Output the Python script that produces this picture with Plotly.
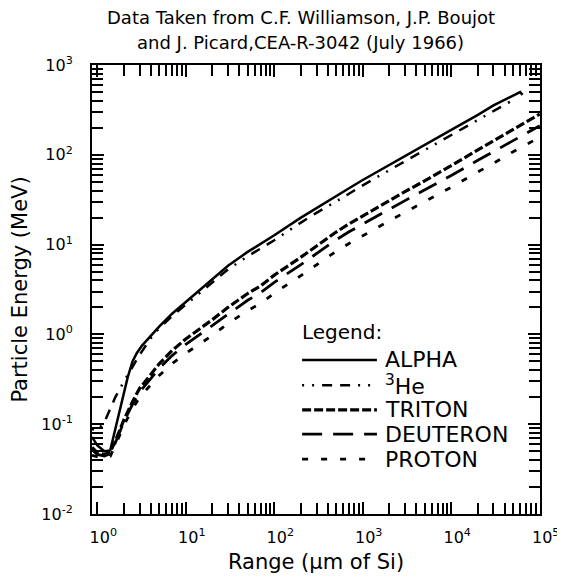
import plotly.graph_objects as go

# ---- data ----
alpha_range = [0.87, 1.0, 1.2, 1.4, 1.6, 2.0, 2.2, 2.5, 2.8, 3.2, 4.0, 5.0, 7.0, 10, 15, 20, 30, 50, 70, 100,
               200, 300, 500, 700, 1000, 2000, 3000, 5000, 7000, 10000, 20000, 30000, 50000, 60000, 64000]
alpha_energy = [0.072, 0.058, 0.05, 0.051, 0.089, 0.22, 0.33, 0.5, 0.62, 0.75, 0.96, 1.22, 1.7, 2.3, 3.2,
                4.1, 5.8, 8.3, 10.2, 12.7, 20, 25.7, 34.7, 42.5, 52.5, 77.6, 98, 130, 157, 190, 279, 355,
                457, 500, 465]

he3_range = [0.87, 1.0, 1.2, 1.4, 1.6, 2.0, 2.5, 3.0, 4.0, 5.0, 7.0, 10, 15, 20, 30, 50, 70, 100,
             200, 300, 500, 700, 1000, 2000, 3000, 5000, 7000, 10000, 20000, 30000, 46000]
he3_energy = [0.088, 0.085, 0.105, 0.15, 0.2, 0.3, 0.44, 0.59, 0.9, 1.17, 1.6, 2.15, 3.0, 3.8, 5.3,
              7.4, 9.1, 11.2, 17.6, 22.6, 30.2, 37.2, 45.7, 67.6, 85, 113, 136, 166, 243, 309, 390]

hyd_range = [0.87, 1.0, 1.2, 1.4, 1.6, 2.0, 2.5, 3.0, 4.0, 5.0, 7.0, 10, 15, 20, 30, 50, 70, 100,
             200, 300, 500, 700, 1000, 2000, 3000, 5000, 7000, 10000, 20000, 30000, 50000, 100000]
triton_energy = [0.055, 0.048, 0.046, 0.049, 0.065, 0.112, 0.178, 0.25, 0.355, 0.47, 0.66, 0.89, 1.19,
                 1.46, 2.0, 2.85, 3.47, 4.57, 7.25, 9.7, 13.8, 17.0, 20.9, 30.9, 38.9, 51.3, 61.7,
                 75.9, 113.5, 143, 195, 285]
deuteron_energy = [0.052, 0.046, 0.044, 0.047, 0.062, 0.107, 0.166, 0.228, 0.32, 0.419, 0.581, 0.775,
                   1.027, 1.254, 1.70, 2.40, 2.91, 3.80, 5.99, 7.97, 11.3, 13.9, 17.0, 24.8, 30.9,
                   40.4, 48.2, 58.9, 86.9, 108.5, 146.6, 211]
proton_energy = [0.045, 0.043, 0.041, 0.0437, 0.058, 0.0976, 0.148, 0.199, 0.269, 0.348, 0.472, 0.616,
                 0.805, 0.976, 1.32, 1.84, 2.21, 2.88, 4.52, 5.98, 8.42, 10.3, 12.6, 18.4, 22.9, 29.9,
                 35.7, 43.6, 64.6, 80.4, 108.4, 157]

series_names = ["ALPHA", "<sup>3</sup>He", "TRITON", "DEUTERON", "PROTON"]

x_tick_vals = [1, 10, 100, 1000, 10000, 100000]
x_tick_text = ["10<sup>0</sup>", "10<sup>1</sup>", "10<sup>2</sup>", "10<sup>3</sup>", "10<sup>4</sup>", "10<sup>5</sup>"]
y_tick_vals = [0.01, 0.1, 1, 10, 100, 1000]
y_tick_text = ["10<sup>-2</sup>", "10<sup>-1</sup>", "10<sup>0</sup>", "10<sup>1</sup>", "10<sup>2</sup>", "10<sup>3</sup>"]

title_lines = ["Data Taken from C.F. Williamson, J.P. Boujot",
               "and J. Picard,CEA-R-3042 (July 1966)"]

# ---- styles ----
styles = [
    dict(dash="solid", width=2.5),
    dict(dash="2px,8px,2px,8px,10px,8px,10px,8px", width=2.5),
    dict(dash="9px,3px", width=3.2),
    dict(dash="20px,11px", width=2.8),
    dict(dash="6px,13px", width=2.8),
]
xs = [alpha_range, he3_range, hyd_range, hyd_range, hyd_range]
ys = [alpha_energy, he3_energy, triton_energy, deuteron_energy, proton_energy]

FONT = "DejaVu Sans"
fig = go.Figure()
for name, x, y, st in zip(series_names, xs, ys, styles):
    fig.add_trace(go.Scatter(x=x, y=y, mode="lines", name=name, showlegend=False, hoverinfo="skip",
                             line=dict(color="black", width=st["width"], dash=st["dash"])))
# invisible copy on the mirrored axes so the top/right tick marks are drawn
fig.add_trace(go.Scatter(x=alpha_range, y=alpha_energy, mode="lines", xaxis="x2", yaxis="y2",
                         showlegend=False, hoverinfo="skip", line=dict(color="rgba(0,0,0,0)", width=0)))


def minor_vals(lo, hi):
    vals = []
    for d in range(lo, hi):
        for m in range(2, 10):
            vals.append(m * 10 ** d)
    return vals


def axis_style(**kw):
    d = dict(type="log", showgrid=False, zeroline=False, showline=True, linecolor="black",
             linewidth=2, ticks="inside", ticklen=12, tickwidth=1.5, automargin=False,
             tickcolor="black", tickmode="array", ticklabeloverflow="allow",
             tickfont=dict(family=FONT, size=16, color="black"))
    d.update(kw)
    return d


x_minor = dict(ticks="inside", ticklen=11, tickwidth=1.5, tickcolor="black",
               tickmode="array", tickvals=minor_vals(0, 5))
y_minor = dict(ticks="inside", ticklen=11, tickwidth=1.5, tickcolor="black",
               tickmode="array", tickvals=minor_vals(-2, 3))

X_RANGE = [-0.06, 5.003]
Y_RANGE = [-2.001, 3.001]

fig.update_layout(
    xaxis=axis_style(range=X_RANGE, tickvals=x_tick_vals, ticktext=x_tick_text,
                     ticklabelshift=6, ticklabelstandoff=8, minor=x_minor,
                     title=dict(text="Range (\u00b5m of Si)",
                                font=dict(family=FONT, size=21, color="black"), standoff=8)),
    yaxis=axis_style(range=Y_RANGE, tickvals=y_tick_vals, ticktext=y_tick_text,
                     ticklabelstandoff=14, minor=y_minor,
                     title=dict(text="Particle Energy (MeV)",
                                font=dict(family=FONT, size=21, color="black"), standoff=16)),
    xaxis2=axis_style(range=X_RANGE, overlaying="x", side="top", anchor="y",
                      tickvals=x_tick_vals, showticklabels=False, minor=x_minor),
    yaxis2=axis_style(range=Y_RANGE, overlaying="y", side="right", anchor="x",
                      tickvals=y_tick_vals, showticklabels=False, minor=y_minor),
)

# ---- title (two lines, as in the original) ----
for txt, yy in zip(title_lines, [1.105, 1.050]):
    fig.add_annotation(x=0.4665, y=yy, xref="paper", yref="paper", text=txt, showarrow=False,
                       xanchor="center", yanchor="middle",
                       font=dict(family=FONT, size=18, color="black"))

# ---- hand-drawn legend (as in the original figure) ----
leg_x0, leg_x1, leg_text_x = 0.469, 0.636, 0.650
leg_title_y = 0.405
leg_rows_y = [0.343, 0.287, 0.232, 0.178, 0.122]
fig.add_annotation(x=leg_x0 - 0.005, y=leg_title_y, xref="paper", yref="paper", text="Legend:",
                   showarrow=False, xanchor="left", yanchor="middle",
                   font=dict(family=FONT, size=20, color="black"))
for name, st, yy in zip(series_names, styles, leg_rows_y):
    fig.add_shape(type="line", xref="paper", yref="paper", x0=leg_x0, x1=leg_x1, y0=yy, y1=yy,
                  line=dict(color="black", width=st["width"], dash=st["dash"]))
    fig.add_annotation(x=leg_text_x, y=yy, xref="paper", yref="paper", text=name,
                       showarrow=False, xanchor="left", yanchor="middle",
                       font=dict(family=FONT, size=22, color="black"))

# the page adds an 8 px body margin, so the figure is sized to fit the 565x579 window
fig.update_layout(
    width=557, height=571,
    margin=dict(l=84, r=25, t=57, b=65),
    paper_bgcolor="white", plot_bgcolor="white",
    showlegend=False,
)

fig.write_html("out.html")
